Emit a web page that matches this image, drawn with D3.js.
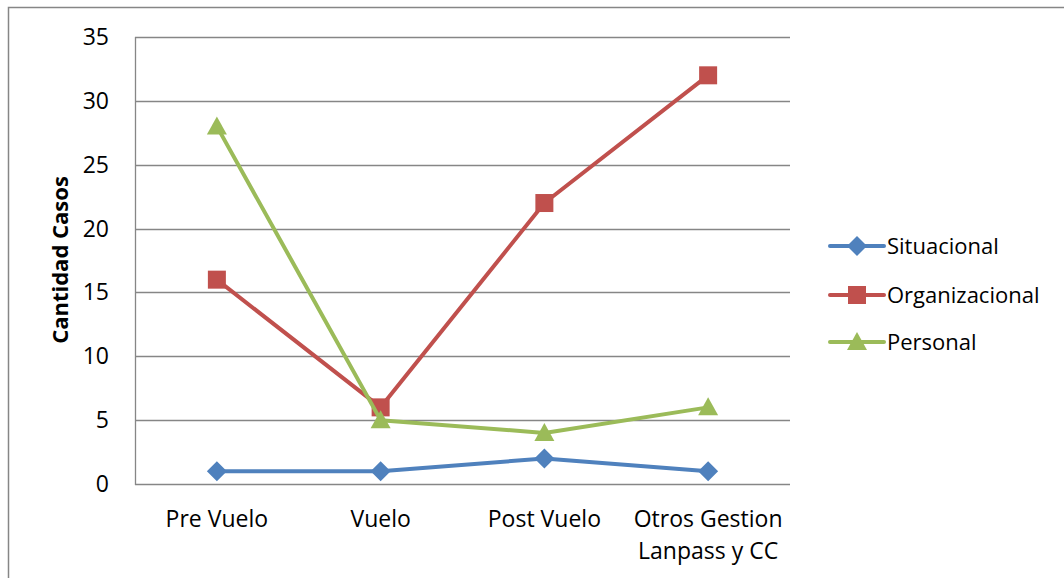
<!DOCTYPE html>
<html>
<head>
<meta charset="utf-8">
<script src="https://cdn.jsdelivr.net/npm/d3@7"></script>
<style>
  body { margin: 0; background: #fff; }
  svg { display: block; font-family: "Open Sans", Lato, sans-serif; }
</style>
</head>
<body>
<svg id="chart" width="1064" height="578"></svg>
<script>
const categories = [["Pre Vuelo"], ["Vuelo"], ["Post Vuelo"], ["Otros Gestion", "Lanpass y CC"]]
const situacional = [1, 1, 2, 1]
const organizacional = [16, 6, 22, 32]
const personal = [28, 5, 4, 6]
const yTicks = [0, 5, 10, 15, 20, 25, 30, 35]

const series = [
  { name: "Situacional", values: situacional, color: "#4F81BD", marker: "diamond" },
  { name: "Organizacional", values: organizacional, color: "#C0504D", marker: "square" },
  { name: "Personal", values: personal, color: "#9BBB59", marker: "triangle" }
]

const svg = d3.select("#chart")

// outer frame
svg.append("rect")
  .attr("x", 8.5).attr("y", 7.5)
  .attr("width", 1100).attr("height", 620)
  .attr("fill", "none").attr("stroke", "#868686").attr("stroke-width", 1.5)

const plotLeft = 135, plotRight = 790, plotTop = 37, plotBottom = 484

const xScale = d3.scaleBand()
  .domain(d3.range(categories.length))
  .range([plotLeft, plotRight])

const yScale = d3.scaleLinear().domain([0, 35]).range([plotBottom, plotTop])

// gridlines
svg.append("g")
  .selectAll("line")
  .data(yTicks)
  .enter()
  .append("line")
  .attr("x1", plotLeft).attr("x2", plotRight)
  .attr("y1", d => Math.round(yScale(d)) + 0.5)
  .attr("y2", d => Math.round(yScale(d)) + 0.5)
  .attr("stroke", "#868686").attr("stroke-width", 1.3)

// y axis line
svg.append("line")
  .attr("x1", plotLeft + 0.5).attr("x2", plotLeft + 0.5)
  .attr("y1", plotTop).attr("y2", plotBottom + 1)
  .attr("stroke", "#868686").attr("stroke-width", 1.3)

// y tick labels
svg.append("g")
  .selectAll("text")
  .data(yTicks)
  .enter()
  .append("text")
  .attr("x", 109)
  .attr("y", d => yScale(d))
  .attr("dy", "0.35em")
  .attr("text-anchor", "end")
  .attr("font-size", 23)
  .attr("fill", "#000")
  .text(d => d)

// x labels
const xLabels = svg.append("g")
  .selectAll("text")
  .data(categories)
  .enter()
  .append("text")
  .attr("text-anchor", "middle")
  .attr("font-size", 23)
  .attr("fill", "#000")

xLabels.selectAll("tspan")
  .data((d, i) => d.map(line => ({ line, i })))
  .enter()
  .append("tspan")
  .attr("x", d => xScale(d.i) + xScale.bandwidth() / 2)
  .attr("y", (d, j) => 527 + j * 32)
  .text(d => d.line)

// axis title
svg.append("text")
  .attr("transform", "translate(68,260) rotate(-90)")
  .attr("text-anchor", "middle")
  .attr("font-size", 22)
  .attr("font-weight", "bold")
  .text("Cantidad Casos")

const cx = i => xScale(i) + xScale.bandwidth() / 2

const drawMarker = (g, type, color, x, y) => {
  if (type === "diamond") {
    g.append("path")
      .attr("d", `M${x},${y - 10}L${x + 10},${y}L${x},${y + 10}L${x - 10},${y}Z`)
      .attr("fill", color)
  } else if (type === "square") {
    g.append("rect")
      .attr("x", x - 9).attr("y", y - 9)
      .attr("width", 18).attr("height", 18)
      .attr("fill", color)
  } else {
    g.append("path")
      .attr("d", `M${x},${y - 10}L${x + 10},${y + 8}L${x - 10},${y + 8}Z`)
      .attr("fill", color)
  }
}

const line = d3.line()
  .x((d, i) => cx(i))
  .y(d => yScale(d))

series.forEach(s => {
  const g = svg.append("g")
  g.append("path")
    .datum(s.values)
    .attr("d", line)
    .attr("fill", "none")
    .attr("stroke", s.color)
    .attr("stroke-width", 4)
    .attr("stroke-linejoin", "round")
    .attr("stroke-linecap", "round")
  s.values.forEach((v, i) => drawMarker(g, s.marker, s.color, cx(i), yScale(v)))
})

// legend
const legendY = [246, 295, 342]
series.forEach((s, i) => {
  const g = svg.append("g")
  const y = legendY[i]
  g.append("line")
    .attr("x1", 830).attr("x2", 884)
    .attr("y1", y).attr("y2", y)
    .attr("stroke", s.color).attr("stroke-width", 4)
    .attr("stroke-linecap", "round")
  drawMarker(g, s.marker, s.color, 857, y)
  g.append("text")
    .attr("x", 887).attr("y", y)
    .attr("dy", "0.35em")
    .attr("font-size", 22)
    .text(s.name)
})
</script>
</body>
</html>
